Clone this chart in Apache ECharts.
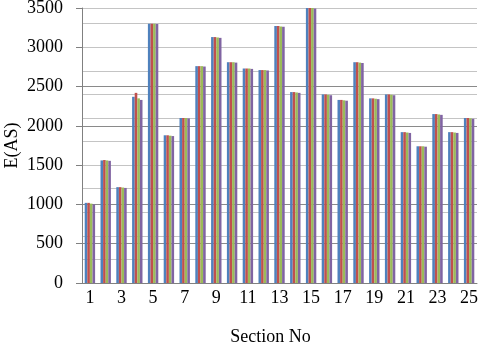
<!DOCTYPE html>
<html>
<head>
<meta charset="utf-8">
<script src="https://cdn.jsdelivr.net/npm/echarts@6/dist/echarts.min.js"></script>
<style>html,body{margin:0;padding:0;background:#fff}#c{width:478px;height:346px}</style>
</head>
<body>
<div id="c"></div>
<script>
const categories = ['1','2','3','4','5','6','7','8','9','10','11','12','13','14','15','16','17','18','19','20','21','22','23','24','25'];
const seriesA = [1020,1560,1220,2370,3300,1880,2100,2760,3130,2810,2730,2710,3270,2430,3500,2400,2330,2810,2350,2400,1920,1740,2150,1920,2100];
const seriesB = [1020,1565,1220,2420,3300,1880,2100,2760,3130,2810,2730,2710,3270,2430,3500,2400,2330,2810,2350,2400,1920,1740,2150,1920,2100];
const seriesC = [1010,1560,1215,2350,3300,1875,2100,2760,3125,2810,2730,2710,3265,2425,3500,2395,2325,2805,2345,2395,1915,1740,2145,1915,2095];
const seriesD = [1000,1555,1210,2330,3295,1870,2095,2755,3120,2805,2725,2705,3260,2420,3495,2390,2320,2800,2340,2390,1910,1735,2140,1910,2090];
const yTicks = [0,500,1000,1500,2000,2500,3000,3500];
const colors = ['#4F81BD','#C0504D','#9BBB59','#8064A2'];
const font = 'Liberation Serif, Times New Roman, serif';
const chart = echarts.init(document.getElementById('c'), null, {renderer:'canvas'});
const mk = (d, i) => ({type:'bar', data:d, yAxisIndex:0, barWidth:2.6, barGap:'0%', itemStyle:{color:colors[i]}, silent:true, animation:false});
chart.setOption({
  animation:false,
  grid:{left:82, right:1, top:8, bottom:63, containLabel:false, outerBoundsMode:'none'},
  xAxis:{type:'category', data:categories, boundaryGap:true,
    axisLine:{lineStyle:{color:'#808080', width:1}},
    axisTick:{show:false},
    axisLabel:{interval:1, color:'#000', fontFamily:font, fontSize:18, margin:6},
    name:'Section No', nameLocation:'middle', nameGap:45, nameMoveOverlap:false,
    nameTextStyle:{color:'#000', fontFamily:font, fontSize:18, padding:[0,18,0,0]}},
  yAxis:[
    {type:'value', min:yTicks[0], max:yTicks[yTicks.length-1], interval:500,
     axisLine:{show:true, lineStyle:{color:'#808080'}},
     axisTick:{show:true, length:6, lineStyle:{color:'#808080'}},
     axisLabel:{color:'#000', fontFamily:font, fontSize:18, margin:19, formatter:v => String(v)},
     splitLine:{show:true, lineStyle:{color:'#8a8a8a', width:1}},
     name:'E(AS)', nameLocation:'middle', nameGap:61, nameRotate:90, nameMoveOverlap:false,
     nameTextStyle:{color:'#000', fontFamily:font, fontSize:18}},
    {type:'value', min:0, max:3500, interval:300, position:'left',
     axisLine:{show:false}, axisTick:{show:false}, axisLabel:{show:false},
     splitLine:{show:true, lineStyle:{color:'#c4c4c4', width:1}}}
  ],
  series:[mk(seriesA,0), mk(seriesB,1), mk(seriesC,2), mk(seriesD,3)]
});
</script>
</body>
</html>
